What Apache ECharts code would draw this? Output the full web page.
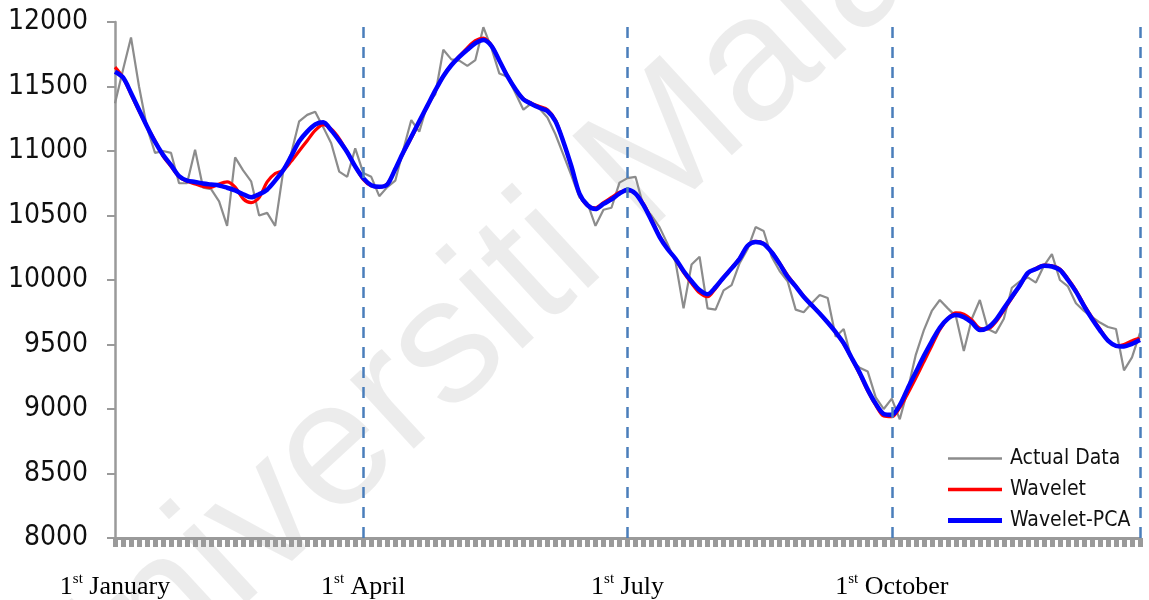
<!DOCTYPE html>
<html>
<head>
<meta charset="utf-8">
<script src="https://cdn.jsdelivr.net/npm/echarts@6/dist/echarts.min.js"></script>
<style>
html,body{margin:0;padding:0;background:#fff;}
#chart{width:1149px;height:600px;}
</style>
</head>
<body>
<div id="chart"></div>
<script>
// Trading-day positions along the year (129 ticks)
var days = [];
for (var d = 1; d <= 129; d++) { days.push('D' + d); }

// Quarter start tick labels
var quarterIdx = [0, 31, 64, 97];
var quarterMonth = ['January', 'April', 'July', 'October'];
var dashedIdx = [31, 64, 97, 128];

var actualData = [
  11370, 11630, 11880, 11500, 11180, 10985, 11000, 10985, 10750, 10750,
  11010, 10715, 10705, 10610, 10420, 10950, 10850, 10765, 10500, 10520,
  10420, 10840, 10980, 11230, 11280, 11305, 11185, 11060, 10840, 10800,
  11020, 10830, 10800, 10650, 10720, 10770, 11010, 11240, 11150, 11360,
  11440, 11785, 11710, 11700, 11660, 11705, 11960, 11800, 11600, 11575,
  11450, 11320, 11370, 11330, 11260, 11130, 10970, 10810, 10640, 10595,
  10420, 10545, 10560, 10755, 10790, 10800, 10570, 10500, 10410, 10280,
  10140, 9780, 10120, 10180, 9780, 9770, 9920, 9960, 10130, 10240,
  10410, 10380, 10180, 10070, 9990, 9770, 9750, 9820, 9884, 9860,
  9560, 9620, 9380, 9320, 9290, 9090, 9000, 9080, 8920, 9150,
  9420, 9610, 9760, 9845, 9780, 9720, 9450, 9700, 9845, 9620,
  9590, 9700, 9940, 9990, 10020, 9980, 10110, 10200, 10000, 9950,
  9820, 9760, 9713, 9670, 9636, 9620, 9300, 9400, 9590
];

var waveletData = [
  11650, 11570, 11440, 11310, 11190, 11080, 10960, 10880, 10800, 10765,
  10745, 10725, 10718, 10745, 10760, 10720, 10630, 10600, 10640, 10760,
  10825, 10850, 10920, 11000, 11080, 11160, 11205, 11170, 11095, 10990,
  10880, 10780, 10730, 10720, 10745, 10860, 10985, 11100, 11225, 11345,
  11465, 11580, 11670, 11735, 11800, 11855, 11875, 11820, 11700, 11585,
  11480, 11405, 11370, 11345, 11320, 11240, 11070, 10875, 10665, 10575,
  10560, 10600, 10640, 10680, 10695, 10670, 10590, 10470, 10340, 10245,
  10160, 10060, 9975, 9900, 9870, 9935, 10020, 10095, 10170, 10265,
  10300, 10285, 10220, 10130, 10035, 9955, 9875, 9810, 9740, 9670,
  9595, 9505, 9390, 9270, 9140, 9030, 8945, 8940, 9010, 9120,
  9240, 9365, 9490, 9615, 9700, 9745, 9735, 9690, 9625, 9620,
  9675, 9765, 9860, 9955, 10050, 10090, 10115, 10110, 10085, 10010,
  9920, 9810, 9710, 9620, 9535, 9490, 9500, 9530, 9550
];

var waveletPcaData = [
  11615, 11570, 11450, 11320, 11190, 11070, 10970, 10890, 10805, 10770,
  10760, 10748, 10740, 10733, 10715, 10695, 10665, 10642, 10665, 10700,
  10770, 10850, 10960, 11075, 11150, 11205, 11222, 11160, 11080, 10990,
  10880, 10790, 10735, 10722, 10740, 10860, 10990, 11110, 11230, 11350,
  11470, 11580, 11665, 11730, 11785, 11835, 11860, 11815, 11700, 11580,
  11480, 11400, 11365, 11335, 11310, 11230, 11070, 10880, 10670, 10580,
  10550, 10590, 10625, 10670, 10700, 10670, 10580, 10460, 10335, 10240,
  10165, 10070, 9990, 9922, 9890, 9945, 10020, 10090, 10165, 10265,
  10295, 10280, 10215, 10125, 10025, 9950, 9870, 9805, 9740, 9670,
  9595, 9510, 9395, 9280, 9150, 9040, 8962, 8955, 9030, 9160,
  9285, 9410, 9525, 9630, 9700, 9728, 9712, 9670, 9612, 9630,
  9690, 9780, 9870, 9960, 10055, 10085, 10110, 10105, 10078, 10000,
  9910, 9800, 9700, 9610, 9530, 9490, 9485, 9505, 9535
];

var narrowFont = '"DejaVu Sans Condensed", "DejaVu Sans", sans-serif';

function legendBox(name, top, thick) {
  return {
    orient: 'vertical',
    left: 943,
    top: top,
    itemWidth: 54,
    itemHeight: thick,
    itemGap: 0,
    icon: 'rect',
    textStyle: {fontFamily: narrowFont, fontSize: 21, color: '#111', padding: [0, 0, 0, 3]},
    data: [name]
  };
}

var chart = echarts.init(document.getElementById('chart'), null, {renderer: 'canvas'});
chart.setOption({
  backgroundColor: '#ffffff',
  animation: false,
  graphic: [{
    type: 'text',
    x: 535, y: 270,
    rotation: 0.745,
    z: -10,
    silent: true,
    style: {
      text: 'Universiti Malaya',
      font: '178px "Liberation Sans", sans-serif',
      fill: 'rgba(0,0,0,0.075)',
      textAlign: 'center',
      textVerticalAlign: 'middle'
    }
  }],
  grid: {left: 115, right: 9, top: 22, bottom: 62, containLabel: false},
  legend: [
    legendBox('Actual Data', 443, 2.5),
    legendBox('Wavelet', 474, 3.5),
    legendBox('Wavelet-PCA', 505, 5)
  ],
  xAxis: {
    type: 'category',
    data: days,
    boundaryGap: false,
    axisLine: {lineStyle: {color: '#9a9a9a', width: 3}},
    axisTick: {show: true, interval: 0, length: 9, lineStyle: {color: '#9a9a9a', width: 5}},
    splitLine: {show: false},
    axisLabel: {
      interval: function (index) { return quarterIdx.indexOf(index) >= 0; },
      margin: 34,
      formatter: function (value, index) {
        var q = quarterIdx.indexOf(index);
        if (q < 0) return '';
        return '{n|1}{s|st}{m| ' + quarterMonth[q] + '}';
      },
      rich: {
        n: {fontFamily: '"Liberation Serif", serif', fontSize: 26, color: '#000', lineHeight: 30},
        s: {fontFamily: '"Liberation Serif", serif', fontSize: 15, color: '#000', verticalAlign: 'top', lineHeight: 30, padding: [0, 0, 12, 0]},
        m: {fontFamily: '"Liberation Serif", serif', fontSize: 26, color: '#000', lineHeight: 30}
      }
    }
  },
  yAxis: {
    type: 'value',
    min: 8000,
    max: 12000,
    interval: 500,
    axisLine: {show: true, lineStyle: {color: '#9a9a9a', width: 2.5}},
    axisTick: {show: true, length: 8, lineStyle: {color: '#9a9a9a', width: 2}},
    splitLine: {show: false},
    axisLabel: {
      fontFamily: narrowFont, fontSize: 28, color: '#111', margin: 27,
      formatter: function (v) { return String(v); }
    }
  },
  series: [
    {
      name: 'Actual Data', type: 'line', data: actualData,
      symbol: 'none', smooth: false, z: 2,
      lineStyle: {color: '#8c8c8c', width: 2.2},
      itemStyle: {color: '#8c8c8c'},
      markLine: {
        silent: true, symbol: 'none',
        label: {show: false},
        lineStyle: {color: '#4a7ebb', width: 2.5, type: [11, 9]},
        data: dashedIdx.map(function (i) { return {xAxis: days[i]}; })
      }
    },
    {
      name: 'Wavelet', type: 'line', data: waveletData,
      symbol: 'none', smooth: 0.3, z: 3,
      lineStyle: {color: '#ff0000', width: 3.2},
      itemStyle: {color: '#ff0000'}
    },
    {
      name: 'Wavelet-PCA', type: 'line', data: waveletPcaData,
      symbol: 'none', smooth: 0.3, z: 4,
      lineStyle: {color: '#0000ff', width: 4.5},
      itemStyle: {color: '#0000ff'}
    }
  ]
});
</script>
</body>
</html>
